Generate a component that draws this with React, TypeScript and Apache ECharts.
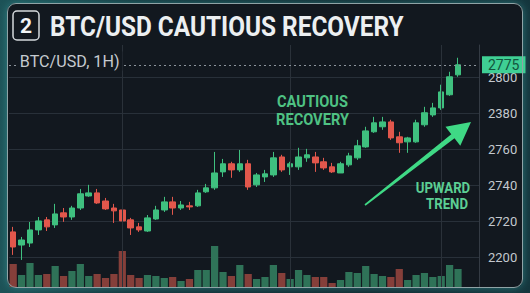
import React, { useEffect, useRef } from "react";
import * as echarts from "echarts";

// Hourly slots: 54 candles plus two empty slots of right-hand padding
const categories: string[] = Array.from({ length: 56 }, (_, i) => `T${i + 1}`);

// [open, close, low, high]
const candles: number[][] = [
  [2714.0, 2705.6, 2701.2, 2716.8],
  [2706.7, 2709.5, 2698.4, 2711.2],
  [2707.8, 2715.1, 2705.6, 2719.5],
  [2715.1, 2720.1, 2712.3, 2722.3],
  [2720.7, 2716.8, 2714.5, 2722.3],
  [2717.9, 2724.0, 2716.2, 2729.6],
  [2724.6, 2722.3, 2719.6, 2727.3],
  [2722.3, 2727.3, 2720.7, 2728.5],
  [2727.3, 2735.2, 2726.2, 2737.9],
  [2734.0, 2735.7, 2733.5, 2740.2],
  [2735.7, 2730.1, 2729.6, 2737.9],
  [2731.2, 2726.8, 2726.2, 2732.9],
  [2727.3, 2725.7, 2719.0, 2729.6],
  [2726.2, 2720.1, 2712.3, 2727.9],
  [2720.7, 2716.2, 2712.3, 2721.8],
  [2716.8, 2715.1, 2714.0, 2719.0],
  [2714.5, 2721.8, 2714.0, 2723.4],
  [2721.2, 2726.2, 2720.7, 2728.5],
  [2726.2, 2730.7, 2725.1, 2733.5],
  [2730.7, 2727.3, 2723.5, 2733.5],
  [2727.3, 2729.0, 2726.2, 2731.2],
  [2728.5, 2727.9, 2726.2, 2730.7],
  [2728.5, 2735.7, 2727.9, 2737.4],
  [2736.3, 2738.5, 2735.7, 2740.7],
  [2738.5, 2746.8, 2737.4, 2758.5],
  [2747.4, 2751.9, 2744.6, 2754.6],
  [2751.9, 2748.5, 2744.1, 2753.0],
  [2748.5, 2751.9, 2747.4, 2759.6],
  [2751.9, 2739.0, 2737.4, 2754.1],
  [2740.2, 2745.7, 2739.0, 2746.8],
  [2744.6, 2746.3, 2741.8, 2748.5],
  [2745.7, 2755.2, 2744.6, 2758.5],
  [2755.7, 2748.5, 2747.4, 2756.9],
  [2750.2, 2751.9, 2745.7, 2753.0],
  [2750.2, 2755.7, 2748.5, 2760.8],
  [2755.2, 2756.9, 2753.0, 2760.2],
  [2755.7, 2752.4, 2747.4, 2758.5],
  [2753.0, 2749.6, 2748.5, 2755.2],
  [2750.2, 2747.4, 2746.8, 2752.4],
  [2746.8, 2751.9, 2746.8, 2753.0],
  [2751.3, 2756.3, 2750.2, 2758.0],
  [2755.2, 2761.9, 2754.1, 2765.2],
  [2761.3, 2770.2, 2760.8, 2772.5],
  [2769.7, 2774.7, 2769.1, 2778.0],
  [2772.5, 2775.2, 2770.8, 2778.0],
  [2775.2, 2766.3, 2765.2, 2776.4],
  [2766.9, 2763.6, 2758.0, 2769.7],
  [2764.1, 2766.3, 2758.0, 2766.9],
  [2764.1, 2774.7, 2763.6, 2776.4],
  [2773.6, 2780.3, 2772.5, 2783.6],
  [2779.1, 2783.0, 2778.0, 2785.8],
  [2783.0, 2791.9, 2781.9, 2795.9],
  [2790.3, 2800.3, 2789.7, 2803.1],
  [2801.4, 2807.0, 2800.3, 2810.9],
];

const volumes: number[] = [
  23, 12, 24, 12, 13, 21, 11, 16, 23, 11,
  13, 9, 13, 36, 12, 9, 12, 11, 9, 10,
  6, 8, 17, 17, 41, 15, 11, 22, 13, 8,
  10, 22, 14, 8, 17, 12, 10, 10, 4, 7,
  15, 14, 21, 13, 11, 10, 18, 7, 12, 14,
  10, 11, 22, 18,
];

// Price scale ticks and the text printed beside each one
const priceTicks: number[] = [2700, 2720, 2740, 2760, 2780, 2800];
const priceTickLabels: string[] = ["2200", "2720", "2740", "2760", "2380", "2800"];

// Vertical session separators (slot indexes)
const sessionMarks: number[] = [13, 33, 51];

const lastPriceLabel = "2775";
const lastClose = candles[candles.length - 1][1];

const UP = "#3fc07f";
const DOWN = "#e2574c";
const VOL_UP = "#2f7358";
const VOL_DOWN = "#853f3a";
const FRAME_BG = "#12181f";

// Trend arrow geometry (tail -> tip)
const arrowTail = [365, 205];
const arrowTip = [471, 122];

function arrowPoints(): number[][] {
  const dx = arrowTip[0] - arrowTail[0];
  const dy = arrowTip[1] - arrowTail[1];
  const len = Math.hypot(dx, dy);
  const ux = dx / len;
  const uy = dy / len;
  const nx = -uy;
  const ny = ux;
  const headLen = 23;
  const bx = arrowTip[0] - ux * headLen;
  const by = arrowTip[1] - uy * headLen;
  const p = (x: number, y: number, w: number) => [x + nx * w, y + ny * w];
  return [
    p(arrowTail[0], arrowTail[1], 0.8),
    p(bx, by, 2.6),
    p(bx, by, 12),
    [arrowTip[0], arrowTip[1]],
    p(bx, by, -12),
    p(bx, by, -2.6),
    p(arrowTail[0], arrowTail[1], -0.8),
  ];
}

export default function App() {
  const ref = useRef<HTMLDivElement>(null);

  useEffect(() => {
    if (!ref.current) return;
    const chart = echarts.init(ref.current, null, { renderer: "svg" });

    const markLineData: any[] = sessionMarks.map((idx) => ({
      xAxis: idx,
      lineStyle: { type: "solid", color: "#2a3139", width: 1 },
      label: { show: false },
    }));
    markLineData.push({
      yAxis: lastClose,
      lineStyle: { type: [2, 3], color: "#8b939b", width: 1 },
      label: {
        show: true,
        position: "end",
        distance: 3,
        formatter: lastPriceLabel,
        color: "#12553c",
        backgroundColor: "#3fcf94",
        padding: [2, 6, 1, 6],
        fontSize: 14,
        fontFamily: "Roboto",
      },
    });

    chart.setOption({
      animation: false,
      backgroundColor: "transparent",
      grid: [
        { left: 9, right: 51, top: 45, bottom: 0 },
        { left: 9, right: 51, top: 242, bottom: 6 },
      ],
      xAxis: [
        {
          type: "category",
          gridIndex: 0,
          data: categories,
          boundaryGap: true,
          axisLine: { show: false },
          axisTick: { show: false },
          axisLabel: { show: false },
          splitLine: { show: false },
        },
        {
          type: "category",
          gridIndex: 1,
          data: categories,
          boundaryGap: true,
          axisLine: { show: false },
          axisTick: { show: false },
          axisLabel: { show: false },
          splitLine: { show: false },
        },
      ],
      yAxis: [
        {
          type: "value",
          gridIndex: 0,
          position: "right",
          min: 2680,
          max: 2818,
          interval: 20,
          axisLine: { show: true, lineStyle: { color: "#343b44", width: 1 } },
          axisTick: { show: false },
          splitLine: {
            show: true,
            showMinLine: false,
            showMaxLine: false,
            lineStyle: { color: "#283039", width: 1 },
          },
          axisLabel: {
            color: "#c3c8ce",
            fontSize: 13,
            fontFamily: "Roboto",
            margin: 9,
            showMinLabel: false,
            showMaxLabel: false,
            formatter: (v: number) => {
              const i = priceTicks.indexOf(Math.round(v));
              return i >= 0 ? priceTickLabels[i] : "";
            },
          },
        },
        { type: "value", gridIndex: 1, min: 0, max: 45, show: false },
      ],
      series: [
        {
          type: "line",
          xAxisIndex: 0,
          yAxisIndex: 0,
          data: [],
          z: 1,
          silent: true,
          markLine: {
            silent: true,
            symbol: ["none", "none"],
            data: markLineData,
          },
        },
        {
          type: "candlestick",
          xAxisIndex: 0,
          yAxisIndex: 0,
          data: candles,
          barWidth: 6,
          itemStyle: {
            color: UP,
            color0: DOWN,
            borderColor: UP,
            borderColor0: DOWN,
            borderWidth: 1,
          },
        },
        {
          type: "bar",
          xAxisIndex: 1,
          yAxisIndex: 1,
          barCategoryGap: "14%",
          data: volumes.map((v, i) => ({
            value: v,
            itemStyle: { color: candles[i][1] >= candles[i][0] ? VOL_UP : VOL_DOWN },
          })),
        },
      ],
      graphic: [
        {
          type: "rect",
          z: 10,
          shape: { x: 13, y: 11, width: 26, height: 29, r: 4 },
          style: { fill: "none", stroke: "#d5d9dd", lineWidth: 1.5 },
        },
        {
          type: "text",
          z: 10,
          x: 26,
          y: 26,
          style: {
            text: "2",
            fill: "#f2f4f6",
            fontSize: 21,
            fontWeight: "bold",
            fontFamily: "Roboto",
            align: "center",
            verticalAlign: "middle",
          },
        },
        {
          type: "text",
          z: 10,
          x: 50,
          y: 26,
          scaleX: 0.87,
          style: {
            text: "BTC/USD CAUTIOUS RECOVERY",
            fill: "#eceff1",
            fontSize: 28,
            fontWeight: "bold",
            fontFamily: "Roboto",
            align: "left",
            verticalAlign: "middle",
          },
        },
        {
          type: "text",
          z: 10,
          x: 17,
          y: 61,
          scaleX: 0.95,
          style: {
            text: "BTC/USD, 1H)",
            fill: "#c6cbd0",
            fontSize: 17,
            fontFamily: "Roboto",
            align: "left",
            verticalAlign: "middle",
            backgroundColor: FRAME_BG,
            padding: [1, 3],
          },
        },
        {
          type: "text",
          z: 10,
          x: 312.5,
          y: 101,
          scaleX: 0.86,
          style: {
            text: "CAUTIOUS",
            fill: "#4fc283",
            fontSize: 17,
            fontWeight: "bold",
            fontFamily: "Roboto",
            align: "center",
            verticalAlign: "middle",
          },
        },
        {
          type: "text",
          z: 10,
          x: 312.5,
          y: 119,
          scaleX: 0.86,
          style: {
            text: "RECOVERY",
            fill: "#4fc283",
            fontSize: 17,
            fontWeight: "bold",
            fontFamily: "Roboto",
            align: "center",
            verticalAlign: "middle",
          },
        },
        {
          type: "text",
          z: 10,
          x: 443,
          y: 188,
          scaleX: 0.88,
          style: {
            text: "UPWARD",
            fill: "#5ccf94",
            fontSize: 15,
            fontWeight: "bold",
            fontFamily: "Roboto",
            align: "center",
            verticalAlign: "middle",
          },
        },
        {
          type: "text",
          z: 10,
          x: 447,
          y: 204,
          scaleX: 0.88,
          style: {
            text: "TREND",
            fill: "#5ccf94",
            fontSize: 15,
            fontWeight: "bold",
            fontFamily: "Roboto",
            align: "center",
            verticalAlign: "middle",
          },
        },
        {
          type: "polygon",
          z: 10,
          shape: { points: arrowPoints() },
          style: { fill: "#3fd985" },
        },
      ],
    });

    return () => chart.dispose();
  }, []);

  return (
    <div
      style={{
        position: "fixed",
        left: 0,
        top: 0,
        width: 530,
        height: 293,
        overflow: "hidden",
        background: "linear-gradient(90deg, #1d5257 0%, #14353c 25%, #11282f 70%, #15363d 100%)",
      }}
    >
      <div
        style={{
          position: "absolute",
          left: 7,
          top: 3,
          width: 516,
          height: 285,
          borderRadius: 9,
          background: FRAME_BG,
          boxShadow: "0 0 8px rgba(70, 190, 190, 0.45)",
        }}
      />
      <div
        style={{
          position: "absolute",
          left: 0,
          top: 0,
          width: 530,
          height: 287,
          overflow: "hidden",
        }}
      >
        <div ref={ref} style={{ width: 530, height: 293 }} />
      </div>
      <div
        style={{
          position: "absolute",
          left: 7,
          top: 3,
          width: 516,
          height: 285,
          borderRadius: 9,
          border: "1.5px solid #8fa3a6",
          boxSizing: "border-box",
          pointerEvents: "none",
        }}
      />
    </div>
  );
}
